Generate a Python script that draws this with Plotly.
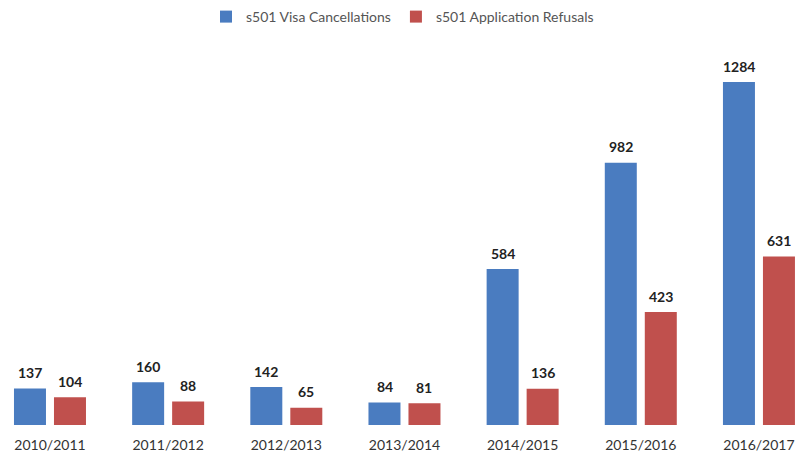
import plotly.graph_objects as go

categories = ["2010/2011", "2011/2012", "2012/2013", "2013/2014", "2014/2015", "2015/2016", "2016/2017"]
visa_cancellations = [137, 160, 142, 84, 584, 982, 1284]
application_refusals = [104, 88, 65, 81, 136, 423, 631]

BLUE = "#4a7cc0"
RED = "#c0504d"
FONT = "Lato, 'Open Sans', sans-serif"

fig = go.Figure()
fig.add_trace(go.Bar(
    x=categories, y=visa_cancellations, name="s501 Visa Cancellations",
    marker=dict(color=BLUE, line=dict(width=0)),
))
fig.add_trace(go.Bar(
    x=categories, y=application_refusals, name="s501 Application Refusals",
    marker=dict(color=RED, line=dict(width=0)),
))

# value labels above bars
OFF = 0.169
annotations = []
for series, shift in ((visa_cancellations, -OFF), (application_refusals, OFF)):
    for i, v in enumerate(series):
        annotations.append(dict(
            x=i + shift, y=v, xref="x", yref="y", text=f"<b>{v}</b>",
            showarrow=False, yanchor="middle", yshift=16,
            font=dict(size=14, color="#222222", family=FONT),
        ))

fig.update_layout(
    width=797, height=457,
    margin=dict(l=0, r=0, t=0, b=32),
    paper_bgcolor="white", plot_bgcolor="white",
    barmode="group", bargap=0.323, bargroupgap=0.2,
    font=dict(family=FONT, color="#444444"),
    legend=dict(orientation="h", x=0.505, xanchor="center", y=0.96, yanchor="middle",
                font=dict(size=14, color="#555555"), itemwidth=30,
                traceorder="normal", bgcolor="rgba(0,0,0,0)"),
    showlegend=True,
    annotations=annotations,
    xaxis=dict(type="category", range=[-0.423, 6.322], showline=False, ticks="",
               showgrid=False, automargin=False, ticklabelstandoff=10,
               tickfont=dict(size=14, color="#333333", family=FONT)),
    yaxis=dict(range=[0, 1591], visible=False, showgrid=False, zeroline=False),
)

fig.write_html(
    "out.html",
    config={"displayModeBar": False},
    post_script="document.body.style.margin='0';document.body.style.overflow='hidden';",
)
